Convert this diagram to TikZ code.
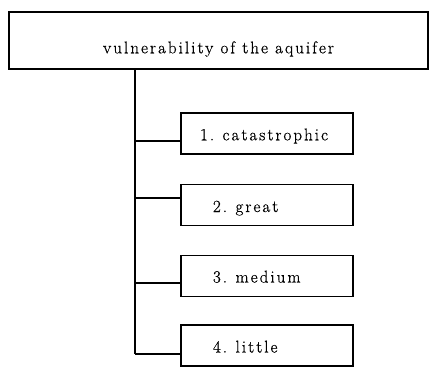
\documentclass[tikz,border=0pt]{standalone}
\usepackage{fontspec}
\setmainfont{Latin Modern Roman}[LetterSpace=12, FakeBold=0.6]
\begin{document}
\begin{tikzpicture}[x=1pt,y=-1pt,
  line join=miter,
  box/.style={draw, line width=1.5pt, rectangle, inner sep=0pt, text depth=2pt},
  topbox/.style={box, minimum width=419pt, minimum height=57pt,
    text height=27.6pt, font=\fontsize{17}{19}\selectfont},
  childbox/.style={box, minimum width=172pt, minimum height=41pt, align=left,
    text height=16pt, font=\fontsize{17}{19}\selectfont},
  link/.style={line width=1.8pt}]
\clip (0,0) rectangle (430,366);
\fill[white] (0,0) rectangle (430,366);

% heading box
\node[topbox] (top) at (218.5,40.5) {vulnerability of the aquifer};

% the four classes
\node[childbox, text width=134pt, inner xsep=19pt, text height=15.6pt] (c1) at (267,133.5) {1. catastrophic};
\node[childbox, text width=108pt, inner xsep=32pt] (c2) at (267,205) {2. great};
\node[childbox, text width=108pt, inner xsep=32pt, text height=15pt] (c3) at (267,276) {3. medium};
\node[childbox, text width=108pt, inner xsep=32pt] (c4) at (267,345.5) {4. little};

% trunk and branches
\coordinate (t0) at (135,69);
\coordinate (b1) at (135,141);
\coordinate (b2) at (135,198);
\coordinate (b3) at (135,283);
\coordinate (b4) at (135,354);
\draw[link] (t0) -- (b4);
\draw[link] (b1) -- (b1 -| c1.west);
\draw[link] (b2) -- (b2 -| c2.west);
\draw[link] (b3) -- (b3 -| c3.west);
\draw[link] (b4) -- (b4 -| c4.west);
\end{tikzpicture}
\end{document}
